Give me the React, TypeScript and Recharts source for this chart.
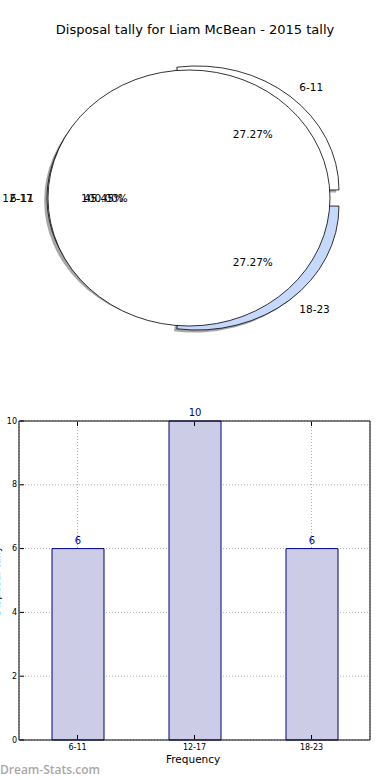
import React from 'react'
import { PieChart, Pie, BarChart, Bar, XAxis, YAxis, CartesianGrid, LabelList } from 'recharts'

// pie: disposal ranges
const SLICE_NAMES = ['6-11', '12-17', '18-23']
const SLICE_VALUES = [6, 10, 6]
const SLICE_COLORS = ['#ffffff', '#ffffff', '#c6d9fc']
const EXPLODE = [0.086, 0, 0.086]

// second (full) pie drawn over the first one
const TOTAL_NAMES = ['6-11']
const TOTAL_VALUES = [22]

// bars
const BAR_CATEGORIES = ['6-11', '12-17', '18-23']
const BAR_VALUES = [6, 10, 6]
const Y_TICKS = [0, 2, 4, 6, 8, 10]

const FONT = '"DejaVu Sans", Verdana, sans-serif'
const RAD = Math.PI / 180
const MAIN_R = 142
const MAIN_Y = 124 / 142
const TOP_R = 141
const TOP_Y = 128 / 141

const pieData = SLICE_NAMES.map((name, i) => ({ name, value: SLICE_VALUES[i] }))
const totalData = TOTAL_NAMES.map((name, i) => ({ name, value: TOTAL_VALUES[i] }))
const barData = BAR_CATEGORIES.map((name, i) => ({ name, value: BAR_VALUES[i] }))

function wedgePath(cx: number, cy: number, rx: number, ry: number, a0: number, a1: number) {
  if (Math.abs(a1 - a0) >= 359.99) {
    return `M ${cx + rx} ${cy} A ${rx} ${ry} 0 1 0 ${cx - rx} ${cy} A ${rx} ${ry} 0 1 0 ${cx + rx} ${cy} Z`
  }
  const x0 = cx + rx * Math.cos(a0 * RAD)
  const y0 = cy - ry * Math.sin(a0 * RAD)
  const x1 = cx + rx * Math.cos(a1 * RAD)
  const y1 = cy - ry * Math.sin(a1 * RAD)
  const large = a1 - a0 > 180 ? 1 : 0
  return `M ${cx} ${cy} L ${x0} ${y0} A ${rx} ${ry} 0 ${large} 0 ${x1} ${y1} Z`
}

function sliceIndex(props: any) {
  const name = props.payload?.name ?? props.name
  return SLICE_NAMES.indexOf(name)
}

// wedges are drawn from the angles the Pie computed (elliptical, like the stretched original)
function makeWedge(yScale: number, exploded: boolean, kind: 'shadow' | 'face' | 'total') {
  return (props: any) => {
    const { cx, cy, outerRadius, startAngle, endAngle } = props
    const rx = outerRadius
    const ry = outerRadius * yScale
    const i = sliceIndex(props)
    const e = exploded && i >= 0 ? EXPLODE[i] : 0
    const mid = ((startAngle + endAngle) / 2) * RAD
    let ox = cx + e * rx * Math.cos(mid)
    let oy = cy - e * ry * Math.sin(mid)
    if (kind === 'shadow') {
      ox -= 0.02 * rx
      oy += 0.02 * ry
      return <path d={wedgePath(ox, oy, rx, ry, startAngle, endAngle)} fill="#4d4d4d" fillOpacity={0.5} stroke="none" />
    }
    const fill = kind === 'total' ? '#ffffff' : SLICE_COLORS[i]
    return <path d={wedgePath(ox, oy, rx, ry, startAngle, endAngle)} fill={fill} stroke="#000" strokeWidth={0.8} />
  }
}

function makeLabel(yScale: number, exploded: boolean) {
  return (props: any) => {
    const { cx, cy, midAngle, outerRadius, percent, name } = props
    const rx = outerRadius
    const ry = outerRadius * yScale
    const i = sliceIndex(props)
    const e = exploded && i >= 0 ? EXPLODE[i] : 0
    const c = Math.cos(midAngle * RAD)
    const s = Math.sin(midAngle * RAD)
    return (
      <g>
        <text x={cx + (e + 1.1) * rx * c} y={cy - (e + 1.1) * ry * s} textAnchor={c > 0 ? 'start' : 'end'}
          dominantBaseline="central" fontFamily={FONT} fontSize={10.5} fill="#000">{name}</text>
        <text x={cx + (e + 0.6) * rx * c} y={cy - (e + 0.6) * ry * s} textAnchor="middle"
          dominantBaseline="central" fontFamily={FONT} fontSize={10.5} fill="#000">{(percent * 100).toFixed(2)}%</text>
      </g>
    )
  }
}

function combine(a: (p: any) => any, b: (p: any) => any) {
  return (p: any) => <g>{a(p)}{b(p)}</g>
}

const XTick = ({ x, y, payload }: any) => (
  <g>
    <line x1={x} x2={x} y1={y - 1} y2={y - 5} stroke="#000" />
    <text x={x} y={y + 7} textAnchor="middle" dominantBaseline="central" fontFamily={FONT} fontSize={8} fill="#000">{payload.value}</text>
  </g>
)
const XTopTick = ({ x, y }: any) => <line x1={x} x2={x} y1={y + 1} y2={y + 5} stroke="#000" />
const YTick = ({ x, y, payload }: any) => (
  <g>
    <line x1={x + 1} x2={x + 5} y1={y} y2={y} stroke="#000" />
    <text x={x - 2} y={y} textAnchor="end" dominantBaseline="central" fontFamily={FONT} fontSize={8} fill="#000">{payload.value}</text>
  </g>
)
const YRightTick = ({ x, y }: any) => <line x1={x - 1} x2={x - 5} y1={y} y2={y} stroke="#000" />

export default function App() {
  return (
    <div style={{ position: 'absolute', left: 0, top: 0, width: 390, height: 780, background: '#fff', overflow: 'hidden', fontFamily: FONT }}>
      <div style={{ position: 'absolute', top: 22, left: 0, width: 390, textAlign: 'center', fontSize: 13, color: '#000' }}>
        Disposal tally for Liam McBean - 2015 tally
      </div>

      <div style={{ position: 'absolute', top: 0, left: 0 }}>
        <PieChart width={390} height={390} margin={{ top: 0, right: 0, bottom: 0, left: 0 }}>
          <Pie data={pieData} dataKey="value" nameKey="name" cx={189} cy={198} outerRadius={MAIN_R}
            fill="none" stroke="none" isAnimationActive={false} labelLine={false}
            label={makeWedge(MAIN_Y, true, 'shadow')} />
          <Pie data={pieData} dataKey="value" nameKey="name" cx={189} cy={198} outerRadius={MAIN_R}
            fill="none" stroke="none" isAnimationActive={false} labelLine={false}
            label={makeWedge(MAIN_Y, true, 'face')} />
          <Pie data={totalData} dataKey="value" nameKey="name" cx={189} cy={198} outerRadius={TOP_R}
            fill="none" stroke="none" isAnimationActive={false} labelLine={false}
            label={combine(makeWedge(TOP_Y, false, 'total'), makeLabel(TOP_Y, false))} />
          <Pie data={pieData} dataKey="value" nameKey="name" cx={189} cy={198} outerRadius={MAIN_R}
            fill="none" stroke="none" isAnimationActive={false} labelLine={false}
            label={makeLabel(MAIN_Y, true)} />
        </PieChart>
      </div>

      <div style={{ position: 'absolute', top: 400, left: 0 }}>
        <BarChart width={390} height={380} data={barData} margin={{ top: 20, right: 19, bottom: 39, left: 18 }} barSize={52}>
          <CartesianGrid stroke="#b0b0b0" strokeDasharray="1 2" />
          <XAxis dataKey="name" height={1} tickSize={0} tickMargin={0} tick={<XTick />} axisLine={{ stroke: '#000' }} tickLine={false} interval={0} />
          <XAxis xAxisId="top" dataKey="name" orientation="top" height={1} tickSize={0} tickMargin={0} tick={<XTopTick />} axisLine={{ stroke: '#000' }} tickLine={false} interval={0} />
          <YAxis width={1} domain={[0, 10]} ticks={Y_TICKS} tickSize={0} tickMargin={0} tick={<YTick />} axisLine={{ stroke: '#000' }} tickLine={false} interval={0} />
          <YAxis yAxisId="r" orientation="right" width={1} domain={[0, 10]} ticks={Y_TICKS} tickSize={0} tickMargin={0} tick={<YRightTick />} axisLine={{ stroke: '#000' }} tickLine={false} interval={0} />
          <Bar dataKey="value" fill="#ccccE6" stroke="#000080" strokeWidth={1} isAnimationActive={false}>
            <LabelList dataKey="value" position="top" offset={5} fill="#00008b" fontSize={10} fontFamily={FONT} />
          </Bar>
        </BarChart>
      </div>

      <svg width={10} height={780} style={{ position: 'absolute', left: 0, top: 0 }}>
        <text transform="translate(0,581) rotate(-90)" textAnchor="middle" fontFamily={FONT} fontSize={10.5} fill="#000">Disposal tally</text>
      </svg>

      <div style={{ position: 'absolute', top: 753, left: 166, fontSize: 10.5, color: '#000' }}>
        Frequency
      </div>

      <div style={{ position: 'absolute', top: 761, left: 0, fontSize: 12, color: '#a8a8a8', fontWeight: 600, fontFamily: '"Open Sans", sans-serif' }}>
        Dream-Stats.com
      </div>
    </div>
  )
}
